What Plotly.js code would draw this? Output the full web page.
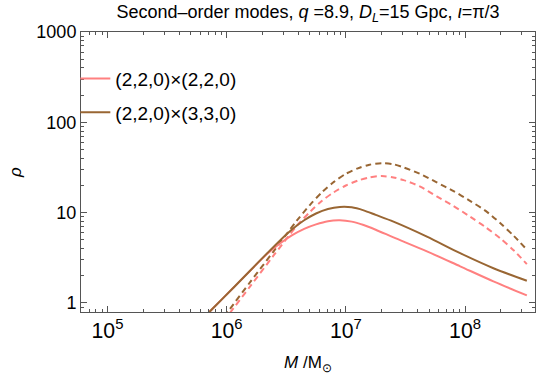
<!DOCTYPE html>
<html>
<head>
<meta charset="utf-8">
<script src="https://cdn.plot.ly/plotly-3.0.1.min.js"></script>
<style>
  html, body { margin: 0; padding: 0; background: #fff; }
  #snr-plot { width: 542px; height: 375px; }
</style>
</head>
<body>
<div id="snr-plot"></div>
<script>
// total mass in solar masses
const massSolid = [6.3e5, 7.29e5, 1.15e6, 2.18e6, 2.82e6, 3.55e6, 4.47e6, 5.62e6, 7.08e6, 8.91e6, 1.12e7, 1.41e7, 1.78e7, 2.51e7, 4.79e7, 9.1e7, 1.73e8, 3.3e8];
const massDashed = [9.51e5, 1.04e6, 1.58e6, 2.46e6, 3.89e6, 5.01e6, 6.31e6, 7.94e6, 1.0e7, 1.26e7, 1.58e7, 2.0e7, 2.51e7, 3.05e7, 4.17e7, 5.79e7, 7.94e7, 1.1e8, 1.48e8, 1.97e8, 2.57e8, 3.3e8];

// SNR rho, solid curves
const rho220x220 = [0.667, 0.813, 1.49, 3.47, 4.57, 5.62, 6.61, 7.41, 8.04, 8.22, 7.94, 7.28, 6.46, 5.32, 3.72, 2.54, 1.73, 1.21];
const rho220x330 = [0.667, 0.813, 1.49, 3.53, 4.95, 6.53, 8.22, 9.77, 10.96, 11.53, 11.43, 10.59, 9.44, 7.94, 5.42, 3.55, 2.42, 1.76];

// SNR rho, dashed curves
const rho220x220Dashed = [0.631, 0.741, 1.53, 3.31, 7.16, 10.2, 13.5, 16.8, 19.95, 22.6, 24.5, 25.4, 24.5, 22.9, 19.5, 15.1, 11.9, 9.02, 6.92, 5.19, 3.80, 2.69];
const rho220x330Dashed = [0.703, 0.822, 1.71, 3.68, 8.18, 12.2, 16.8, 21.9, 26.9, 30.9, 33.9, 35.3, 34.3, 31.6, 26.9, 21.6, 17.4, 13.5, 10.5, 7.67, 5.50, 3.89];

const seriesNames = ['(2,2,0)×(2,2,0)', '(2,2,0)×(3,3,0)'];

const pink = '#ff8080';
const brown = '#996633';
const frameColor = '#555555';
const font = 'Liberation Sans, Arial, sans-serif';

const data = [
    {
        x: massDashed, y: rho220x220Dashed, mode: 'lines',
        line: { color: pink, width: 2, dash: '6px,4px', shape: 'spline', smoothing: 0.8 },
        showlegend: false
    },
    {
        x: massDashed, y: rho220x330Dashed, mode: 'lines',
        line: { color: brown, width: 2, dash: '6px,4px', shape: 'spline', smoothing: 0.8 },
        showlegend: false
    },
    {
        x: massSolid, y: rho220x220, mode: 'lines', name: seriesNames[0],
        legendgroup: 'a',
        line: { color: pink, width: 2, shape: 'spline', smoothing: 0.8 }
    },
    {
        x: massSolid, y: rho220x330, mode: 'lines', name: seriesNames[1],
        legendgroup: 'b',
        line: { color: brown, width: 2, shape: 'spline', smoothing: 0.8 }
    }
];

const axisCommon = {
    type: 'log',
    dtick: 1,
    showline: true,
    linecolor: frameColor,
    linewidth: 1,
    mirror: 'allticks',
    ticks: 'inside',
    ticklen: 6,
    tickcolor: frameColor,
    showgrid: false,
    zeroline: false,
    minor: { ticks: 'inside', ticklen: 3, tickcolor: frameColor, dtick: 'D1', showgrid: false }
};

const layout = {
    width: 542,
    height: 375,
    margin: { l: 81, r: 7, t: 32, b: 63 },
    paper_bgcolor: '#fff',
    plot_bgcolor: '#fff',
    font: { family: font, color: '#000' },
    title: {
        text: 'Second–order modes, <i>q</i> =8.9, <i>D</i><sub><i>L</i></sub>=15 Gpc, <i>ι</i>=π/3',
        font: { size: 18, family: font },
        xref: 'paper', x: 0.5, xanchor: 'center',
        yref: 'container', y: 0.968, yanchor: 'middle'
    },
    xaxis: Object.assign({}, axisCommon, {
        range: [4.778, 8.587],
        exponentformat: 'power',
        tickfont: { size: 17 },
        title: { text: '<i>M</i> /M<sub>⊙</sub>', font: { size: 17 }, standoff: 14 }
    }),
    yaxis: Object.assign({}, axisCommon, {
        range: [-0.101, 3],
        exponentformat: 'none',
        tickfont: { size: 18 },
        title: { text: '<i>ρ</i>', font: { size: 17 }, standoff: 10 }
    }),
    showlegend: true,
    legend: {
        x: -0.0125, xanchor: 'left',
        y: 0.901, yanchor: 'top',
        bgcolor: 'rgba(0,0,0,0)',
        font: { size: 19 },
        traceorder: 'grouped',
        tracegroupgap: 6,
        itemwidth: 30
    }
};

Plotly.newPlot('snr-plot', data, layout, { displayModeBar: false, staticPlot: true });
</script>
</body>
</html>
